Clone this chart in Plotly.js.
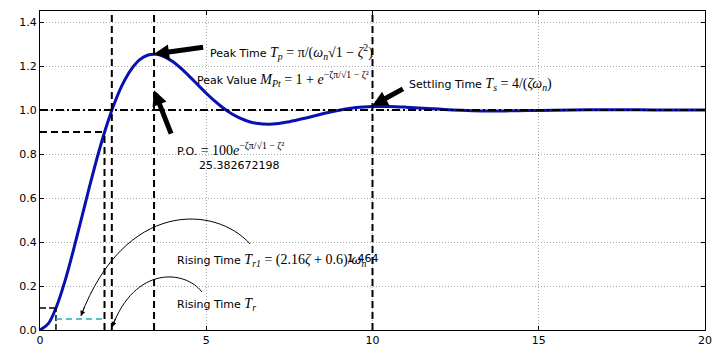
<!DOCTYPE html>
<html>
<head>
<meta charset="utf-8">
<script src="https://cdn.plot.ly/plotly-3.0.1.min.js"></script>
<style>html,body{margin:0;padding:0;background:#fff;}#chart{width:720px;height:353px;}</style>
</head>
<body>
<div id="chart"></div>
<script>
// Step response
const time = [0, 0.25, 0.5, 0.75, 1.0, 1.25, 1.5, 1.75, 2.0, 2.25, 2.5, 2.75, 3.0, 3.25, 3.5, 3.75, 4.0, 4.25, 4.5, 4.75, 5.0, 5.25, 5.5, 5.75, 6.0, 6.25, 6.5, 7.0, 7.5, 8.0, 8.5, 9.0, 9.5, 10.0, 10.5, 11, 12, 13, 14, 15, 16, 17, 18, 19, 20];
const response = [0, 0.029, 0.108, 0.222, 0.360, 0.509, 0.658, 0.800, 0.927, 1.035, 1.122, 1.186, 1.229, 1.250, 1.253, 1.242, 1.219, 1.188, 1.152, 1.114, 1.076, 1.041, 1.010, 0.984, 0.964, 0.949, 0.940, 0.936, 0.947, 0.964, 0.983, 0.999, 1.011, 1.016, 1.016, 1.013, 1.004, 0.997, 0.996, 0.998, 1.000, 1.001, 1.001, 1.000, 1.000];

// Characteristic times / levels
const t10 = 0.48, t90 = 1.94;
const riseTime = 2.16, peakTime = 3.43, settleTime = 10;
const level10 = 0.1, level90 = 0.9, finalValue = 1.0, riseMark = 0.05;
const riseTime1 = 1.464;
const overshoot = 25.382672198;
const peakValue = 1.254;

const xTicks = [0, 5, 10, 15, 20];
const yTicks = [0, 0.2, 0.4, 0.6, 0.8, 1.0, 1.2, 1.4];

const yTop = 1.45, xEnd = 20;
const dashBlack = {color: '#000', width: 2, dash: '7px,4px'};

function seg(x, y, line) {
  return {type: 'scatter', mode: 'lines', x: x, y: y, line: line, hoverinfo: 'skip', showlegend: false};
}

const traces = [
  {type: 'scatter', mode: 'lines', x: time, y: response, line: {color: '#0a0fb0', width: 3, shape: 'spline'}, showlegend: false},
  seg([0, xEnd], [finalValue, finalValue], {color: '#000', width: 2, dash: '8px,3px,2px,3px'}),
  seg([riseTime, riseTime], [0, yTop], dashBlack),
  seg([peakTime, peakTime], [0, yTop], dashBlack),
  seg([settleTime, settleTime], [0, yTop], dashBlack),
  seg([t90, t90], [0, level90], dashBlack),
  seg([0, t90], [level90, level90], dashBlack),
  seg([t10, t10], [0, level10], {color: '#000', width: 1.5, dash: '6px,3px'}),
  seg([0, t10], [level10, level10], {color: '#000', width: 1.5, dash: '6px,3px'}),
  seg([t10, t10 + riseTime1], [riseMark, riseMark], {color: '#20b0b0', width: 1.5, dash: '6px,4px'})
];

const serif = "font-family:Liberation Serif;font-size:14px";
const txtFont = {family: 'DejaVu Sans', size: 11, color: '#000'};

function label(x, y, text) {
  return {x: x, y: y, xref: 'x', yref: 'y', text: text, showarrow: false, xanchor: 'left', yanchor: 'middle', font: txtFont};
}
function bigArrow(x, y, ax, ay) {
  return {x: x, y: y, xref: 'x', yref: 'y', ax: ax, ay: ay, axref: 'x', ayref: 'y', text: '', showarrow: true,
          arrowhead: 2, arrowsize: 0.6, arrowwidth: 5, arrowcolor: '#000', standoff: 0};
}
function smallHead(x, y, ax, ay) {
  return {x: x, y: y, xref: 'x', yref: 'y', ax: ax, ay: ay, text: '', showarrow: true,
          arrowhead: 2, arrowsize: 1, arrowwidth: 1, arrowcolor: '#000', standoff: 0};
}

const annotations = [
  bigArrow(peakTime, peakValue, 4.95, 1.286),
  bigArrow(peakTime, 1.09, 3.96, 0.886),
  bigArrow(settleTime, 1.02, 10.96, 1.10),
  smallHead(1.23, 0.064, 4, -10),
  smallHead(2.17, 0.014, 4, -10),
  label(5.05, 1.264, "Peak Time <span style='" + serif + "'><i>T<sub>p</sub></i> = π/(<i>ω<sub>n</sub></i>√1 − <i>ζ</i><sup>2</sup>)</span>"),
  label(4.66, 1.141, "Peak Value <span style='" + serif + "'><i>M<sub>Pt</sub></i> = 1 + <i>e</i><sup>−ζπ/√1 − ζ²</sup></span>"),
  label(4.06, 0.823, "P.O. <span style='" + serif + "'>= 100<i>e</i><sup>−ζπ/√1 − ζ²</sup></span>"),
  label(4.72, 0.75, String(overshoot)),
  label(11.04, 1.118, "Settling Time <span style='" + serif + "'><i>T<sub>s</sub></i> = 4/(<i>ζω<sub>n</sub></i>)</span>"),
  label(4.06, 0.314, "Rising Time <span style='" + serif + "'><i>T<sub>r1</sub></i> = (2.16<i>ζ</i> + 0.6)/<i>ω<sub>n</sub></i></span>"),
  label(9.17, 0.323, String(riseTime1)),
  label(4.06, 0.118, "Rising Time <span style='" + serif + "'><i>T<sub>r</sub></i></span>")
];

const shapes = [
  {type: 'path', xref: 'x', yref: 'y', path: 'M 6.32,0.391 C 5.26,0.568 2.56,0.591 1.23,0.064', line: {color: '#000', width: 1}},
  {type: 'path', xref: 'x', yref: 'y', path: 'M 4.87,0.173 C 4.36,0.273 2.86,0.295 2.17,0.014', line: {color: '#000', width: 1}}
];

const axisCommon = {
  showline: true, mirror: 'ticks', linecolor: '#000', linewidth: 1,
  ticks: 'inside', ticklen: 4, tickcolor: '#000',
  showgrid: true, gridcolor: '#a8a8a8', griddash: '1px,2px', gridwidth: 1,
  zeroline: false, tickfont: {family: 'DejaVu Sans', size: 11, color: '#000'}
};

const layout = {
  width: 720, height: 353,
  margin: {l: 40, r: 15, t: 11, b: 23},
  paper_bgcolor: '#fff', plot_bgcolor: '#fff',
  showlegend: false,
  xaxis: Object.assign({}, axisCommon, {range: [0, xEnd], tickvals: xTicks, ticktext: xTicks.map(String)}),
  yaxis: Object.assign({}, axisCommon, {range: [0, yTop], tickvals: yTicks, ticktext: yTicks.map(v => v.toFixed(1))}),
  annotations: annotations,
  shapes: shapes
};

Plotly.newPlot('chart', traces, layout, {staticPlot: true, displayModeBar: false});
</script>
</body>
</html>
